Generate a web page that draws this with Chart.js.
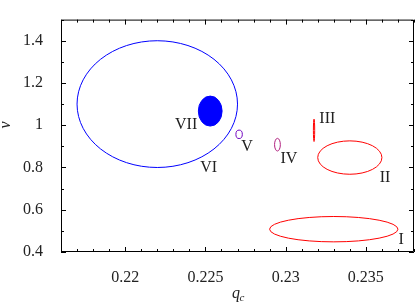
<!DOCTYPE html>
<html>
<head>
<meta charset="utf-8">
<script src="https://cdn.jsdelivr.net/npm/chart.js@4"></script>
<style>
  html, body { margin: 0; padding: 0; background: #fff; }
  #wrap { width: 415px; height: 305px; }
</style>
</head>
<body>
<div id="wrap"><canvas id="myChart" width="415" height="305"></canvas></div>
<script>
/* de gebieden als ellipsen: midden en halve breedte/hoogte */
var regions = ['I', 'II', 'III', 'IV', 'V', 'VI', 'VII'];
var centerQ = [0.2330, 0.2340, 0.23177, 0.22949, 0.2271, 0.2220, 0.2253];
var centerNu = [0.508, 0.847, 0.976, 0.908, 0.957, 1.100, 1.067];
var halfQ = [0.0040, 0.0020, 0.00004, 0.00018, 0.00020, 0.0050, 0.00074];
var halfNu = [0.060, 0.079, 0.053, 0.030, 0.020, 0.300, 0.071];
var colors = ['#ff0000', '#ff0000', '#ff0000', '#b0207f', '#7000c0', '#0000ff', '#0000ff'];
var filled = [false, false, false, false, false, false, true];

/* plek van de labels (in data) */
var labelQ = [0.2372, 0.2362, 0.2326, 0.2302, 0.2276, 0.2252, 0.2238];
var labelNu = [0.457, 0.752, 1.032, 0.843, 0.897, 0.800, 1.003];

/* as-ticks */
var xTicks = [0.22, 0.225, 0.23, 0.235];
var xTickLabels = ['0.22', '0.225', '0.23', '0.235'];
var yTicks = [0.4, 0.6, 0.8, 1.0, 1.2, 1.4];
var yTickLabels = ['0.4', '0.6', '0.8', '1', '1.2', '1.4'];

var serif = "'Liberation Serif', 'DejaVu Serif', serif";

var datasets = regions.map(function (name, i) {
  return {
    label: name,
    data: [{ x: centerQ[i], y: centerNu[i] }],
    pointRadius: 0,
    borderColor: colors[i],
    backgroundColor: colors[i]
  };
});

var ellipsePlugin = {
  id: 'ellipses',
  afterDatasetsDraw: function (chart) {
    var ctx = chart.ctx;
    var xs = chart.scales.x, ys = chart.scales.y;
    var area = chart.chartArea;
    ctx.save();
    ctx.beginPath();
    ctx.rect(area.left, area.top, area.right - area.left, area.bottom - area.top);
    ctx.clip();
    for (var i = 0; i < regions.length; i++) {
      var cx = xs.getPixelForValue(centerQ[i]);
      var cy = ys.getPixelForValue(centerNu[i]);
      var rx = Math.abs(xs.getPixelForValue(centerQ[i] + halfQ[i]) - cx);
      var ry = Math.abs(ys.getPixelForValue(centerNu[i] + halfNu[i]) - cy);
      ctx.beginPath();
      ctx.ellipse(cx, cy, Math.max(rx, 0.6), ry, 0, 0, Math.PI * 2);
      if (filled[i]) {
        ctx.fillStyle = colors[i];
        ctx.fill();
      }
      ctx.strokeStyle = colors[i];
      ctx.lineWidth = 1;
      ctx.stroke();
    }
    ctx.restore();

    // labels
    ctx.save();
    ctx.fillStyle = '#222';
    ctx.font = '16px ' + serif;
    ctx.textAlign = 'center';
    ctx.textBaseline = 'middle';
    for (var j = 0; j < regions.length; j++) {
      ctx.fillText(regions[j], xs.getPixelForValue(labelQ[j]), ys.getPixelForValue(labelNu[j]));
    }
    ctx.restore();
  }
};

/* ticks naar binnen, ook boven en rechts */
var frameTicks = {
  id: 'frameTicks',
  afterDraw: function (chart) {
    var ctx = chart.ctx;
    var xs = chart.scales.x, ys = chart.scales.y;
    var a = chart.chartArea;
    ctx.save();
    ctx.strokeStyle = '#000';
    ctx.lineWidth = 1;
    ctx.beginPath();
    ctx.rect(a.left + 0.5, a.top + 0.5, a.right - a.left - 1, a.bottom - a.top - 1);
    ctx.stroke();
    ctx.beginPath();
    for (var k = 216; k <= 238; k++) {
      var v = k / 1000;
      var px = Math.round(xs.getPixelForValue(v)) + 0.5;
      var len = (k % 5 === 0) ? 5 : 3;
      ctx.moveTo(px, a.bottom); ctx.lineTo(px, a.bottom - len);
      ctx.moveTo(px, a.top); ctx.lineTo(px, a.top + len);
    }
    for (var m = 4; m <= 15; m++) {
      var w = m / 10;
      var py = Math.round(ys.getPixelForValue(w)) + 0.5;
      var l2 = (m % 2 === 0) ? 5 : 3;
      ctx.moveTo(a.left, py); ctx.lineTo(a.left + l2, py);
      ctx.moveTo(a.right, py); ctx.lineTo(a.right - l2, py);
    }
    ctx.stroke();

    // as-titels
    ctx.fillStyle = '#222';
    ctx.font = 'italic 16px ' + serif;
    ctx.textAlign = 'center';
    ctx.textBaseline = 'middle';
    ctx.fillText('q', 236, 294);
    ctx.font = 'italic 11px ' + serif;
    ctx.fillText('c', 242, 298);
    ctx.save();
    ctx.translate(6, 125);
    ctx.rotate(-Math.PI / 2);
    ctx.font = 'italic 16px ' + serif;
    ctx.fillText('\u03bd', 0, 0);
    ctx.restore();
    ctx.restore();
  }
};

var ctx = document.getElementById('myChart');

var myChart = new Chart(ctx, {
  type: 'scatter',
  data: { datasets: datasets },
  options: {
    responsive: false,
    animation: false,
    layout: { padding: { top: 0, right: 1, left: 0, bottom: 0 } },
    plugins: {
      legend: { display: false },
      tooltip: { enabled: false }
    },
    scales: {
      x: {
        type: 'linear',
        min: 0.216,
        max: 0.238,
        grid: { display: false },
        border: { display: false },
        afterBuildTicks: function (axis) {
          axis.ticks = xTicks.map(function (v) { return { value: v }; });
        },
        afterFit: function (axis) { axis.height = 53; },
        ticks: {
          color: '#222',
          font: { family: serif, size: 16 },
          padding: 8,
          maxRotation: 0,
          callback: function (value) {
            var i = xTicks.findIndex(function (t) { return Math.abs(t - value) < 1e-9; });
            return i >= 0 ? xTickLabels[i] : '';
          }
        }
      },
      y: {
        type: 'linear',
        min: 0.4,
        max: 1.5,
        grid: { display: false },
        border: { display: false },
        afterBuildTicks: function (axis) {
          axis.ticks = yTicks.map(function (v) { return { value: v }; });
        },
        afterFit: function (axis) { axis.width = 61; },
        ticks: {
          color: '#222',
          font: { family: serif, size: 16 },
          padding: 10,
          callback: function (value) {
            var i = yTicks.findIndex(function (t) { return Math.abs(t - value) < 1e-9; });
            return i >= 0 ? yTickLabels[i] : '';
          }
        }
      }
    }
  },
  plugins: [ellipsePlugin, frameTicks]
});
</script>
</body>
</html>
